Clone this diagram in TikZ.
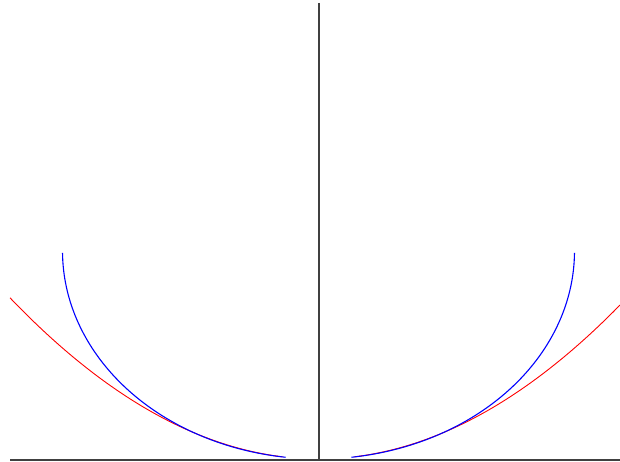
\documentclass[tikz,border=0pt]{standalone}
\begin{document}
\begin{tikzpicture}[x=1pt,y=-1pt,
  axis/.style={draw=black!75,line width=1.8pt},
  ell/.style={draw=blue,line width=1.1pt},
  par/.style={draw=red,line width=0.9pt}]
\useasboundingbox[fill=white] (0,0) rectangle (620,462);
\coordinate (top) at (319,3);
\coordinate (bot) at (319,461);
\coordinate (xl) at (10,460);
\coordinate (xr) at (620,460);
\draw[axis] (top) -- (bot);
\draw[axis] (xl) -- (xr);
% red parabolas
\draw[par] plot[domain=36:308.5,samples=80] ({318.5-\x},{459-0.0017*\x*\x});
\draw[par] plot[domain=36:301.5,samples=80] ({318.5+\x},{459-0.0017*\x*\x});
% blue ellipse arcs
\draw[ell] plot[domain=7.4:89.5,samples=80] ({318.5-256*sin(\x)},{459-208*(1-cos(\x))});
\draw[ell] plot[domain=7.4:89.5,samples=80] ({318.5+256*sin(\x)},{459-208*(1-cos(\x))});
\end{tikzpicture}
\end{document}
